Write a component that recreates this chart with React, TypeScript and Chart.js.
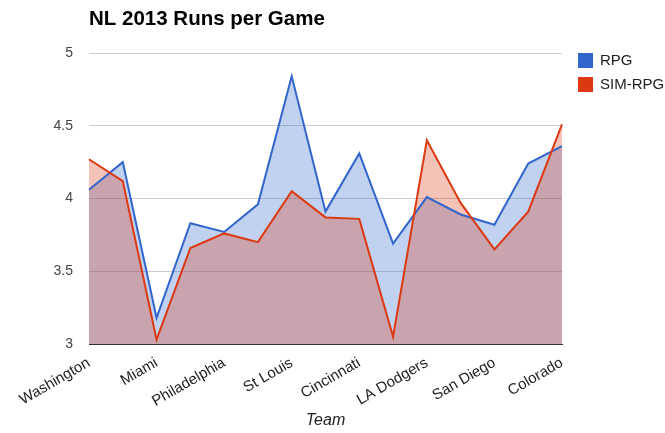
import React, { useEffect, useRef } from "react";
import { Chart, registerables } from "chart.js";

Chart.register(...registerables);

const TITLE = "NL 2013 Runs per Game";
const X_TITLE = "Team";
const teams = [
  "Washington", "Atlanta", "Miami", "NY Mets", "Philadelphia", "Milwaukee", "St Louis", "Pittsburgh",
  "Cincinnati", "Chicago Cubs", "LA Dodgers", "San Francisco", "San Diego", "Arizona", "Colorado",
];
const rpg = [4.06, 4.25, 3.18, 3.83, 3.77, 3.96, 4.84, 3.91, 4.31, 3.69, 4.01, 3.89, 3.82, 4.24, 4.36];
const simRpg = [4.27, 4.12, 3.03, 3.66, 3.76, 3.70, 4.05, 3.87, 3.86, 3.05, 4.40, 3.97, 3.65, 3.91, 4.51];
const yTicks = [3, 3.5, 4, 4.5, 5];

const FONT = "Arial, 'Liberation Sans', sans-serif";

const overlayPlugin = {
  id: "overlay",
  afterDraw(chart: any) {
    const ctx = chart.ctx;
    const area = chart.chartArea;
    ctx.save();
    // title
    ctx.fillStyle = "#000";
    ctx.font = `bold 20.5px ${FONT}`;
    ctx.textAlign = "left";
    ctx.textBaseline = "middle";
    ctx.fillText(TITLE, area.left, 19);
    // legend
    ctx.font = `15px ${FONT}`;
    chart.data.datasets.forEach((ds: any, i: number) => {
      const y = 53 + i * 24;
      ctx.fillStyle = ds.borderColor;
      ctx.fillRect(578, y, 15, 15);
      ctx.fillStyle = "#222";
      ctx.fillText(ds.label, 600, y + 8);
    });
    ctx.restore();
  },
};

export default function App() {
  const ref = useRef<HTMLCanvasElement>(null);
  useEffect(() => {
    document.body.style.margin = "0";
    const chart = new Chart(ref.current!, {
      type: "line",
      data: {
        labels: teams,
        datasets: [
          {
            label: "RPG",
            data: rpg,
            borderColor: "#3366cc",
            backgroundColor: "rgba(51,102,204,0.3)",
            borderWidth: 2,
            pointRadius: 0,
            fill: "start",
            order: 1,
            tension: 0,
          },
          {
            label: "SIM-RPG",
            data: simRpg,
            borderColor: "#dc3912",
            backgroundColor: "rgba(220,57,18,0.3)",
            borderWidth: 2,
            pointRadius: 0,
            fill: "start",
            order: 0,
            tension: 0,
          },
        ],
      },
      options: {
        animation: false,
        responsive: false,
        devicePixelRatio: 1,
        layout: { padding: { top: 53, right: 103, bottom: 0, left: 0 } },
        plugins: {
          legend: { display: false },
          title: { display: false },
          tooltip: { enabled: false },
          filler: { drawTime: "beforeDatasetsDraw" } as any,
        },
        scales: {
          x: {
            offset: false,
            grid: { display: false, drawTicks: false },
            border: { display: true, color: "#333", width: 1 },
            ticks: {
              autoSkip: false,
              minRotation: 30,
              maxRotation: 30,
              padding: 10,
              color: "#222",
              font: { family: FONT, size: 15 },
              callback: (_v: any, i: number) => (i % 2 === 0 ? teams[i] : ""),
            },
            title: {
              display: true,
              text: X_TITLE,
              color: "#222",
              font: { family: FONT, size: 16, style: "italic" },
              padding: { top: 4, bottom: 3 },
            },
            afterFit: (s: any) => {
              s.height = 89;
            },
          },
          y: {
            min: 3,
            max: 5,
            afterBuildTicks: (s: any) => {
              s.ticks = yTicks.map((v) => ({ value: v }));
            },
            grid: { color: "#cccccc", drawTicks: false },
            border: { display: false },
            ticks: {
              padding: 16,
              color: "#444",
              font: { family: FONT, size: 14 },
              callback: (v: any) => String(v),
            },
            afterFit: (s: any) => {
              s.width = 89;
            },
          },
        },
      },
      plugins: [overlayPlugin],
    });
    return () => chart.destroy();
  }, []);
  return (
    <div style={{ width: 665, height: 433 }}>
      <canvas ref={ref} width={665} height={433} style={{ width: 665, height: 433 }} />
    </div>
  );
}
